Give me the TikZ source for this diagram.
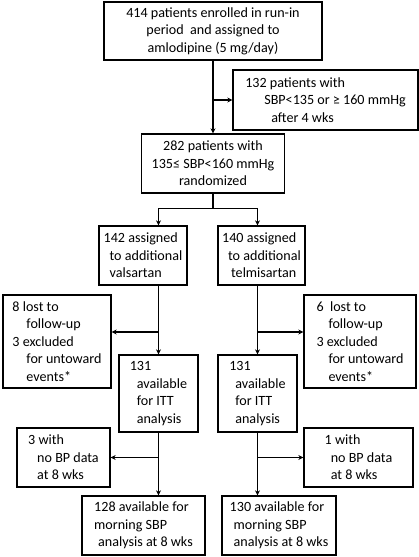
\documentclass[tikz,border=0pt]{standalone}
\usepackage{fontspec}
\setmainfont{Carlito}
\newcommand\boxfont{\fontsize{14.1}{17.5}\selectfont}
\newcommand\ind[1]{\hspace*{#1pt}}
\usepackage{tikz}
\usetikzlibrary{positioning,arrows.meta}
\tikzset{box/.style={rectangle,draw=black,line width=1.3pt,inner sep=0pt,align=left,font=\boxfont}}
\tikzset{arr/.style={line width=1.3pt,-{Stealth[length=5pt,width=5pt]}}}

\begin{document}
\begin{tikzpicture}[x=1pt,y=-1pt]
                \useasboundingbox (0,0) rectangle (419,557);
                \node[box, align=center, minimum width=218, minimum height=58] (enrolled) at (213,31) {414 patients enrolled in run-in\\period\ \ and assigned to\\amlodipine (5 mg/day)};
                \node[box, minimum width=185, minimum height=60] (excluded) at (325.5,100) {132 patients with\\\ind{19}SBP<135 or ≥ 160 mmHg\\\ind{26}after 4 wks};
                \node[box, align=center, minimum width=143, minimum height=59] (randomized) at (213,163.5) {282 patients with\\135≤ SBP<160 mmHg\\randomized};

                \node[box, minimum width=88, minimum height=59] (valsartan) at (143,255.5) {142 assigned\\\ind{6}to additional\\\ind{6}valsartan};
                \node[box, minimum width=87, minimum height=59] (telmisartan) at (261.5,255.5) {140 assigned\\\ind{6}to additional\\\ind{9}telmisartan};

                \node[box, minimum width=108, minimum height=93] (lostV) at (57,341.5) {8 lost to\\\ind{14}follow-up\\3 excluded\\\ind{14}for untoward\\\ind{14}events*};
                \node[box, minimum width=112, minimum height=93] (lostT) at (360,341.5) {6\ \ lost to\\\ind{12}follow-up\\3 excluded\\\ind{12}for untoward\\\ind{12}events*};

                \node[box, minimum width=79, minimum height=77] (ittV) at (158.5,393.5) {131\\\ind{7}available\\\ind{7}for ITT\\\ind{7}analysis};
                \node[box, minimum width=79, minimum height=77] (ittT) at (257.5,393.5) {131\\\ind{6}available\\\ind{6}for ITT\\\ind{6}analysis};

                \node[box, minimum width=93, minimum height=59] (nobpV) at (63.5,457.5) {3 with\\\ind{9}no BP data\\\ind{9}at 8 wks};
                \node[box, minimum width=109, minimum height=59] (nobpT) at (358.5,457.5) {1 with\\\ind{6}no BP data\\\ind{6}at 8 wks};

                \node[box, minimum width=123, minimum height=59] (finalV) at (143.5,525.5) {128 available for\\morning SBP\\\ind{4}analysis at 8 wks};
                \node[box, minimum width=114, minimum height=59] (finalT) at (279,525.5) {130 available for\\\ind{4}morning SBP\\\ind{4}analysis at 8 wks};

                \draw[arr] (enrolled.south) -- (randomized.north);
                \draw[arr] (enrolled.south |- excluded.west) -- (excluded.west);

                \draw[line width=1.3pt] (randomized.south) -- ++(0,15) coordinate (split);
                \draw[arr] (split) -| (ittV.north |- valsartan.north);
                \draw[arr] (split) -| (ittT.north |- telmisartan.north);

                \coordinate (lostVin) at ([yshift=9.5pt]lostV.east);
                \coordinate (lostTin) at ([yshift=9.5pt]lostT.west);
                \draw[arr] (ittV.north |- valsartan.south) -- (ittV.north);
                \draw[arr] (ittV.north |- lostVin) -- (lostVin);
                \draw[arr] (ittT.north |- telmisartan.south) -- (ittT.north);
                \draw[arr] (ittT.north |- lostTin) -- (lostTin);

                \draw[arr] (ittV.south) -- (ittV.south |- finalV.north);
                \draw[arr] (ittV.south |- nobpV.east) -- (nobpV.east);
                \draw[arr] (ittT.south) -- (ittT.south |- finalT.north);
                \draw[arr] (ittT.south |- nobpT.west) -- (nobpT.west);
            \end{tikzpicture}
\end{document}
